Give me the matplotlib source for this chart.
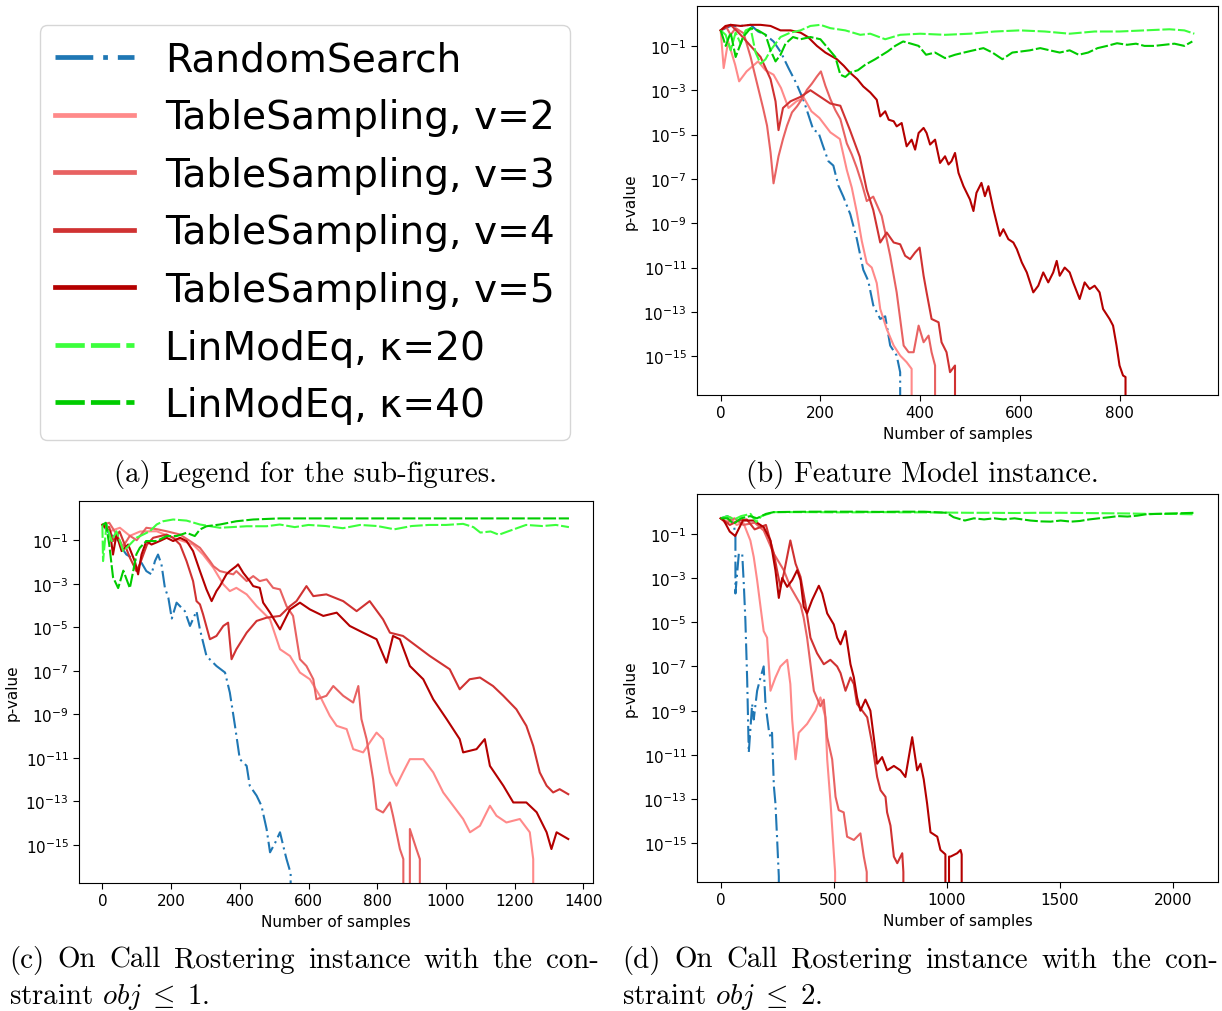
import numpy as np
import matplotlib
matplotlib.use("Agg")
import matplotlib.pyplot as plt
from matplotlib.lines import Line2D
from matplotlib.ticker import FixedLocator, NullLocator
from matplotlib.transforms import IdentityTransform

NINF = -np.inf   # p-value of exactly 0 (drawn down to the bottom of the log axis)

# ---------------- series metadata ----------------
LABELS = ["RandomSearch", "TableSampling, v=2", "TableSampling, v=3",
          "TableSampling, v=4", "TableSampling, v=5",
          "LinModEq, κ=20", "LinModEq, κ=40"]
COLORS = ["#1f77b4", "#ff8a8a", "#e86262", "#d03232", "#b40000",
          "#3cff3c", "#00cc00"]
DASH_RS = (0, (8, 2.1, 1, 2.1))
DASH_LM = (0, (6.2, 1.3))
STYLES = [DASH_RS, "-", "-", "-", "-", DASH_LM, DASH_LM]

# ---------------- (b) Feature Model instance (x: samples, log10 p-value) ----------------
B_RS_X = [0, 20, 40, 60, 75, 90, 106, 121, 136, 152, 167, 186, 196, 205, 216, 226, 236, 246, 260, 273, 286, 296, 306, 320, 330, 340, 353, 360, 363]
B_RS_LP = [-0.3, -0.1, -0.1, -0.05, -0.35, -0.5, -0.8, -1.3, -2.0, -2.7, -3.5, -4.8, -4.9, -5.5, -6.2, -6.4, -7.3, -7.8, -8.6, -9.7, -11.1, -11.6, -12.7, -13.32, -13.2, -14.52, -14.97, -15.72, NINF]

B_TS2_X = [0, 6, 15, 29, 37, 52, 75, 90, 106, 121, 136, 152, 167, 182, 198, 220, 239, 253, 263, 273, 283, 293, 303, 313, 320, 333, 347, 360, 373, 383, 385]
B_TS2_LP = [-0.3, -2.0, -0.8, -1.85, -2.6, -2.15, -1.7, -2.1, -2.3, -2.9, -3.8, -3.5, -3.35, -3.95, -4.25, -4.9, -5.2, -6.6, -7.4, -8.5, -9.8, -10.8, -11.0, -11.7, -12.87, -13.77, -14.52, -14.97, -15.27, -15.57, NINF]

B_TS3_X = [0, 10, 20, 30, 46, 60, 73, 85, 93, 100, 106, 111, 116, 125, 133, 143, 153, 163, 173, 183, 193, 201, 210, 220, 230, 240, 253, 263, 273, 283, 293, 306, 323, 340, 353, 360, 367, 377, 387, 397, 407, 417, 423, 430, 436]
B_TS3_LP = [-0.3, -0.1, -0.5, -0.2, -0.43, -1.5, -2.7, -3.8, -4.6, -5.8, -7.2, -6.6, -5.98, -5.2, -4.6, -4.0, -3.73, -3.4, -2.98, -2.7, -2.38, -2.15, -2.8, -3.4, -3.9, -4.3, -5.4, -5.9, -6.5, -7.2, -8.0, -7.8, -8.67, -10.47, -12.12, -13.32, -14.52, -14.82, -14.82, -13.62, -14.37, -14.07, -14.82, -15.42, NINF]

B_TS4_X = [0, 20, 40, 60, 80, 100, 110, 116, 125, 140, 160, 180, 200, 220, 240, 259, 279, 293, 306, 320, 333, 347, 360, 370, 380, 390, 399, 407, 413, 423, 437, 443, 453, 460, 470, 472]
B_TS4_LP = [-0.3, -0.05, -0.5, -1.0, -1.5, -2.5, -3.5, -4.8, -3.8, -3.5, -3.3, -3.0, -3.3, -3.6, -3.7, -4.78, -6.0, -7.5, -8.4, -9.87, -9.42, -9.87, -9.95, -10.47, -10.62, -10.32, -10.1, -11.37, -12.12, -13.32, -13.47, -14.37, -14.82, -15.72, -15.42, NINF]

B_TS5_X = [0, 10, 20, 40, 60, 80, 100, 120, 140, 160, 175, 193, 210, 233, 247, 259, 274, 286, 300, 313, 320, 330, 337, 347, 353, 363, 373, 383, 390, 397, 407, 413, 420, 430, 440, 450, 457, 463, 470, 477, 487, 500, 507, 513, 523, 530, 537, 547, 560, 567, 577, 587, 594, 604, 614, 627, 637, 647, 657, 667, 674, 680, 690, 700, 707, 720, 730, 740, 750, 760, 767, 780, 787, 794, 800, 807, 812, 814]
B_TS5_LP = [-0.3, -0.1, -0.05, -0.1, -0.05, -0.05, -0.1, -0.3, -0.3, -0.4, -0.6, -1.0, -1.3, -1.6, -1.9, -2.2, -2.5, -2.83, -3.1, -3.43, -4.18, -3.95, -4.33, -4.40, -4.63, -4.48, -5.53, -5.23, -5.68, -4.93, -4.70, -4.93, -5.45, -5.23, -6.28, -5.98, -6.35, -6.20, -5.83, -6.73, -7.33, -7.93, -8.45, -7.63, -7.18, -7.78, -7.33, -8.37, -9.57, -9.27, -9.72, -9.87, -10.17, -10.77, -11.22, -12.12, -11.82, -11.22, -11.67, -11.22, -10.70, -11.37, -11.0, -11.22, -11.67, -12.42, -11.67, -11.97, -11.82, -12.12, -12.87, -13.32, -13.62, -14.52, -15.42, -15.87, -15.94, NINF]

B_LM20_X = [0, 10, 20, 30, 40, 50, 60, 70, 80, 90, 100, 110, 120, 140, 160, 180, 200, 220, 250, 280, 300, 330, 360, 400, 450, 500, 550, 600, 650, 700, 750, 800, 850, 900, 930, 950]
B_LM20_LP = [-0.3, -0.5, -1.2, -0.4, -0.9, -0.3, -0.2, -1.3, -1.8, -1.6, -1.2, -0.9, -0.6, -0.4, -0.3, -0.1, -0.05, -0.2, -0.3, -0.5, -0.45, -0.7, -0.5, -0.45, -0.5, -0.45, -0.35, -0.3, -0.35, -0.45, -0.35, -0.35, -0.3, -0.25, -0.3, -0.45]

B_LM40_X = [0, 10, 20, 30, 45, 60, 75, 90, 100, 110, 120, 130, 145, 160, 180, 200, 215, 230, 240, 250, 260, 275, 290, 310, 335, 350, 366, 382, 397, 412, 430, 450, 470, 488, 507, 527, 545, 565, 585, 603, 620, 641, 660, 680, 700, 718, 737, 756, 775, 795, 815, 833, 850, 870, 890, 910, 930, 946]
B_LM40_LP = [-0.3, -1.0, -0.4, -1.5, -0.6, -0.2, -0.3, -0.5, -1.2, -1.7, -1.4, -0.9, -0.6, -0.7, -0.6, -0.7, -1.1, -1.5, -2.3, -2.4, -2.2, -2.1, -1.85, -1.6, -1.25, -1.0, -0.8, -0.9, -1.0, -1.4, -1.3, -1.55, -1.4, -1.3, -1.2, -1.1, -1.3, -1.6, -1.3, -1.25, -1.2, -1.1, -1.2, -1.3, -1.2, -1.4, -1.3, -1.1, -1.0, -0.88, -0.95, -0.9, -1.0, -1.0, -0.95, -0.9, -1.0, -0.8]

# ---------------- (c) On Call Rostering, obj <= 1 ----------------
C_RS_X = [0, 7, 22, 41, 56, 70, 85, 99, 114, 128, 143, 153, 162, 172, 182, 192, 202, 216, 240, 255, 274, 284, 303, 332, 357, 371, 386, 400, 420, 429, 449, 463, 478, 488, 503, 517, 531, 536, 548, 551]
C_RS_LP = [-0.3, -0.43, -0.74, -0.89, -1.35, -1.66, -1.8, -1.96, -2.04, -2.42, -2.57, -1.96, -1.66, -2.11, -3.19, -3.64, -4.6, -3.87, -4.26, -4.94, -4.26, -5.1, -6.32, -6.78, -7.08, -8.0, -9.53, -11.06, -11.37, -12.28, -12.74, -13.2, -14.27, -15.34, -14.9, -14.42, -15.34, -15.65, -16.3, NINF]

C_TS2_X = [0, 20, 51, 80, 110, 158, 206, 264, 293, 323, 352, 371, 390, 420, 449, 488, 517, 546, 575, 604, 633, 662, 682, 711, 730, 759, 778, 798, 817, 837, 856, 875, 895, 934, 963, 992, 1021, 1050, 1070, 1099, 1128, 1147, 1176, 1215, 1244, 1254, 1260]
C_TS2_LP = [-0.3, -0.6, -0.43, -0.8, -0.6, -0.59, -0.89, -1.2, -1.66, -2.27, -3.03, -3.34, -3.19, -3.49, -4.03, -4.64, -6.01, -6.32, -7.08, -7.39, -8.15, -9.07, -9.53, -9.68, -10.6, -10.75, -10.3, -9.84, -10.14, -11.67, -12.28, -11.67, -11.06, -11.06, -11.67, -12.59, -13.2, -13.81, -14.42, -14.12, -13.2, -13.66, -13.97, -13.81, -14.42, -15.65, NINF]

C_TS3_X = [0, 20, 40, 60, 80, 100, 128, 160, 187, 226, 255, 284, 313, 323, 342, 381, 390, 420, 439, 458, 478, 497, 517, 536, 555, 575, 594, 614, 623, 652, 672, 701, 730, 745, 754, 769, 788, 798, 817, 837, 846, 866, 876, 878, 895, 914, 924, 926]
C_TS3_LP = [-0.3, -0.2, -0.7, -1.3, -0.8, -1.0, -0.43, -0.5, -0.59, -0.74, -1.04, -1.35, -1.96, -2.19, -2.42, -2.57, -2.42, -2.88, -2.65, -2.88, -2.80, -3.19, -3.26, -4.03, -4.48, -6.47, -6.78, -7.39, -8.31, -8.15, -7.70, -8.15, -8.46, -7.70, -9.22, -10.14, -11.98, -13.35, -13.51, -13.05, -13.66, -15.19, -15.65, NINF, -14.27, -15.19, -15.65, NINF]

C_TS4_X = [0, 20, 31, 50, 80, 99, 109, 130, 148, 187, 206, 226, 245, 264, 274, 284, 293, 313, 332, 352, 366, 376, 390, 420, 449, 478, 517, 546, 565, 594, 614, 652, 701, 740, 778, 817, 837, 875, 914, 953, 1011, 1040, 1069, 1099, 1137, 1167, 1205, 1234, 1254, 1273, 1293, 1312, 1331, 1356]
C_TS4_LP = [-0.3, -0.4, -1.04, -0.6, -1.8, -2.42, -2.1, -1.2, -0.89, -0.74, -0.89, -1.2, -1.96, -2.88, -3.8, -3.95, -4.4, -5.55, -5.40, -4.94, -4.79, -6.47, -6.01, -5.25, -4.71, -4.56, -4.48, -4.03, -3.80, -3.11, -3.57, -3.49, -3.80, -4.26, -3.80, -4.64, -5.25, -5.40, -5.86, -6.32, -6.93, -7.85, -7.39, -7.31, -7.70, -8.15, -8.77, -9.53, -10.45, -11.67, -12.28, -12.59, -12.44, -12.67]

C_TS5_X = [0, 22, 31, 41, 56, 75, 95, 104, 114, 128, 143, 167, 187, 206, 226, 245, 264, 284, 303, 318, 332, 342, 361, 371, 390, 395, 410, 429, 439, 458, 468, 488, 517, 546, 575, 604, 643, 682, 720, 759, 798, 827, 846, 866, 895, 934, 963, 1002, 1040, 1050, 1089, 1113, 1128, 1167, 1196, 1234, 1264, 1293, 1307, 1322, 1356]
C_TS5_LP = [-0.3, -0.59, -1.66, -0.74, -1.5, -1.2, -2.0, -2.57, -1.66, -1.04, -1.2, -1.04, -0.89, -1.04, -0.89, -1.04, -1.5, -2.42, -3.26, -3.8, -3.34, -3.11, -2.57, -2.42, -2.19, -2.11, -2.50, -2.88, -3.11, -3.19, -3.87, -4.33, -5.1, -4.18, -3.87, -4.18, -4.48, -4.33, -4.94, -5.25, -5.55, -6.63, -5.40, -5.55, -6.78, -7.39, -8.31, -9.22, -10.14, -10.75, -10.6, -10.14, -11.37, -12.28, -13.05, -13.05, -13.5, -14.42, -15.19, -14.42, -14.73]

C_LM20_X = [0, 2, 12, 27, 41, 61, 80, 99, 119, 138, 158, 177, 206, 245, 284, 342, 420, 478, 516, 560, 600, 650, 700, 750, 800, 850, 900, 950, 1000, 1050, 1080, 1100, 1130, 1154, 1180, 1233, 1280, 1320, 1358]
C_LM20_LP = [-0.3, -1.96, -0.28, -1.04, -0.59, -1.5, -1.2, -0.89, -0.74, -0.59, -0.28, -0.13, -0.05, -0.1, -0.28, -0.43, -0.36, -0.36, -0.28, -0.4, -0.3, -0.35, -0.45, -0.3, -0.35, -0.5, -0.35, -0.3, -0.3, -0.25, -0.4, -0.65, -0.6, -0.75, -0.6, -0.3, -0.35, -0.3, -0.4]

C_LM40_X = [0, 10, 20, 31, 46, 61, 80, 90, 99, 109, 128, 158, 187, 216, 245, 269, 284, 303, 342, 390, 439, 516, 700, 900, 1100, 1358]
C_LM40_LP = [-0.3, -0.2, -1.2, -2.7, -3.2, -2.4, -3.2, -2.4, -1.65, -1.35, -1.04, -1.04, -0.81, -0.81, -0.66, -0.81, -0.51, -0.36, -0.28, -0.13, -0.05, 0.0, 0.0, 0.0, 0.0, 0.0]

# ---------------- (d) On Call Rostering, obj <= 2 ----------------
D_RS_X = [0, 30, 58, 65, 65, 80, 95, 102, 109, 117, 124, 139, 146, 161, 176, 190, 198, 213, 220, 227, 235, 242, 249, 257, 258]
D_RS_LP = [-0.3, -0.2, -0.55, -1.15, -3.7, -1.9, -1.9, -3.26, -4.9, -7.6, -10.9, -8.7, -9.4, -8.1, -7.5, -7.0, -8.7, -9.9, -10.2, -10.0, -12.4, -13.2, -14.7, -16.5, NINF]

D_TS2_X = [0, 20, 43, 70, 100, 131, 146, 161, 176, 190, 205, 220, 242, 264, 294, 308, 316, 331, 345, 382, 419, 441, 463, 471, 486, 500, 506, 508]
D_TS2_LP = [-0.3, -0.5, -0.25, -0.6, -0.5, -1.3, -2.05, -3.1, -4.3, -5.4, -5.7, -8.1, -7.5, -7.0, -6.7, -7.8, -9.4, -11.2, -10.0, -9.6, -9.0, -8.4, -9.3, -11.2, -13.2, -15.4, -16.3, NINF]

D_TS3_X = [0, 30, 60, 100, 150, 190, 235, 279, 308, 353, 367, 382, 397, 412, 441, 456, 471, 493, 508, 522, 544, 559, 589, 618, 633, 646, 648]
D_TS3_LP = [-0.3, -0.5, -0.3, -0.6, -0.5, -0.85, -1.9, -2.65, -3.4, -4.2, -4.8, -5.7, -6.9, -8.1, -8.8, -8.5, -10.2, -11.2, -12.9, -13.5, -13.6, -14.7, -14.85, -14.55, -15.6, -16.3, NINF]

D_TS4_X = [0, 40, 80, 115, 150, 200, 235, 249, 264, 279, 308, 331, 353, 375, 397, 426, 456, 485, 515, 530, 552, 574, 589, 603, 626, 648, 670, 692, 707, 729, 736, 751, 766, 781, 803, 808, 810]
D_TS4_LP = [-0.3, -0.6, -0.4, -0.35, -0.8, -0.6, -1.9, -2.65, -3.4, -2.8, -1.3, -2.35, -2.95, -4.2, -5.7, -6.4, -6.9, -6.7, -7.0, -7.3, -8.1, -7.5, -7.8, -8.7, -9.0, -9.3, -10.5, -12.0, -12.6, -12.9, -13.6, -14.2, -15.6, -15.9, -15.45, -16.3, NINF]

D_TS5_X = [0, 14, 40, 64, 98, 146, 190, 220, 242, 257, 272, 294, 316, 338, 353, 367, 382, 404, 434, 449, 471, 500, 515, 530, 552, 574, 589, 603, 618, 640, 662, 677, 692, 714, 736, 766, 795, 817, 847, 869, 884, 898, 913, 928, 958, 972, 994, 1000, 1010, 1017, 1046, 1061, 1066, 1068]
D_TS5_LP = [-0.3, -0.4, -0.9, -1.1, -0.4, -0.4, -0.7, -1.3, -2.65, -3.9, -3.0, -3.4, -3.1, -2.65, -3.1, -4.3, -4.6, -4.0, -3.35, -3.7, -4.6, -5.1, -5.7, -6.0, -5.4, -6.9, -7.5, -8.4, -9.0, -8.5, -9.0, -10.2, -11.4, -11.1, -11.7, -11.5, -11.7, -12.0, -10.2, -11.7, -11.4, -12.1, -13.2, -14.5, -14.7, -15.3, -15.5, NINF, -15.6, -15.6, -15.45, -15.3, -15.5, NINF]

D_LM20_X = [0, 30, 60, 90, 132, 157, 180, 234, 300, 400, 500, 600, 700, 800, 900, 1000, 1100, 1200, 1300, 1400, 1500, 1600, 1700, 1800, 1900, 2000, 2097]
D_LM20_LP = [-0.3, -0.2, -0.35, -0.2, -0.1, -0.47, -0.2, -0.02, -0.02, -0.02, -0.03, -0.03, -0.02, -0.03, -0.03, -0.04, -0.05, -0.05, -0.06, -0.05, -0.05, -0.06, -0.07, -0.08, -0.1, -0.1, -0.12]

D_LM40_X = [0, 30, 56, 90, 130, 160, 200, 234, 300, 400, 500, 600, 700, 800, 900, 1000, 1030, 1080, 1120, 1165, 1210, 1250, 1300, 1370, 1419, 1460, 1504, 1550, 1589, 1630, 1673, 1720, 1758, 1800, 1843, 1880, 1927, 2000, 2097]
D_LM40_LP = [-0.3, -0.3, -0.55, -0.3, -0.2, -0.3, -0.1, -0.02, -0.01, 0.0, 0.0, 0.0, -0.01, 0.0, 0.0, -0.05, -0.25, -0.4, -0.3, -0.35, -0.3, -0.35, -0.3, -0.4, -0.44, -0.45, -0.4, -0.45, -0.42, -0.35, -0.3, -0.25, -0.2, -0.22, -0.18, -0.12, -0.1, -0.08, -0.05]

PANEL_B = [(B_RS_X, B_RS_LP), (B_TS2_X, B_TS2_LP), (B_TS3_X, B_TS3_LP), (B_TS4_X, B_TS4_LP),
           (B_TS5_X, B_TS5_LP), (B_LM20_X, B_LM20_LP), (B_LM40_X, B_LM40_LP)]
PANEL_C = [(C_RS_X, C_RS_LP), (C_TS2_X, C_TS2_LP), (C_TS3_X, C_TS3_LP), (C_TS4_X, C_TS4_LP),
           (C_TS5_X, C_TS5_LP), (C_LM20_X, C_LM20_LP), (C_LM40_X, C_LM40_LP)]
PANEL_D = [(D_RS_X, D_RS_LP), (D_TS2_X, D_TS2_LP), (D_TS3_X, D_TS3_LP), (D_TS4_X, D_TS4_LP),
           (D_TS5_X, D_TS5_LP), (D_LM20_X, D_LM20_LP), (D_LM40_X, D_LM40_LP)]

Y_TICK_EXP = [-15, -13, -11, -9, -7, -5, -3, -1]

# ---------------- figure ----------------
W, H = 1222, 1012
fig = plt.figure(figsize=(W / 100, H / 100), dpi=100)


def add_ax(l, t, r, b):
    return fig.add_axes([l / W, 1 - b / H, (r - l) / W, (b - t) / H])


def draw_panel(ax, series, xlim, xticks):
    for (x, lp), c, ls in zip(series, COLORS, STYLES):
        y = np.power(10.0, np.asarray(lp, dtype=float))
        ax.plot(x, y, color=c, lw=1.5, linestyle=ls)
    ax.set_yscale("log")
    ax.set_ylim(10 ** -16.75, 10 ** 0.8)
    ax.set_xlim(*xlim)
    ax.yaxis.set_major_locator(FixedLocator([10.0 ** e for e in Y_TICK_EXP]))
    ax.yaxis.set_minor_locator(NullLocator())
    ax.set_xticks(xticks)
    ax.tick_params(labelsize=11, length=4)
    ax.set_xlabel("Number of samples", fontsize=11)
    ax.set_ylabel("p-value", fontsize=11)


ax_b = add_ax(697, 7, 1218, 396)
draw_panel(ax_b, PANEL_B, (-47.5, 997.5), [0, 200, 400, 600, 800])
ax_c = add_ax(79, 502, 593, 884)
draw_panel(ax_c, PANEL_C, (-68, 1428), [0, 200, 400, 600, 800, 1000, 1200, 1400])
ax_d = add_ax(697, 495, 1218, 883)
draw_panel(ax_d, PANEL_D, (-105, 2200), [0, 500, 1000, 1500, 2000])

# ---------------- legend panel (a) ----------------
handles = [Line2D([], [], color=c, lw=3.4, linestyle=ls) for c, ls in zip(COLORS, STYLES)]
fig.legend(handles, LABELS, loc="upper left", bbox_to_anchor=(39.5 / W, 1 - 26 / H),
           borderaxespad=0, fontsize=28.2)

# ---------------- captions ----------------
CAP = dict(family="cmr10", math_fontfamily="cm", fontsize=20.8,
           transform=IdentityTransform(), va="baseline")

fig.text(305, H - 482, "(a) Legend for the sub-figures.", ha="center", **CAP)
fig.text(922, H - 482, "(b) Feature Model instance.", ha="center", **CAP)

renderer = fig.canvas.get_renderer()


def justified(words, x0, x1, yb):
    ts = [fig.text(0, 0, w, ha="left", **CAP) for w in words]
    ws = [t.get_window_extent(renderer).width for t in ts]
    gap = (x1 - x0 - sum(ws)) / (len(ws) - 1)
    x = x0
    for t, w in zip(ts, ws):
        t.set_position((x, H - yb))
        x += w + gap


LINE1_C = ["(c)", "On", "Call", "Rostering", "instance", "with", "the", "con-"]
LINE1_D = ["(d)", "On", "Call", "Rostering", "instance", "with", "the", "con-"]
justified(LINE1_C, 9, 599, 968)
justified(LINE1_D, 622, 1218, 968)
fig.text(9, H - 1004, r"straint $obj\;\leq\;1$.", ha="left", **CAP)
fig.text(622, H - 1004, r"straint $obj\;\leq\;2$.", ha="left", **CAP)

fig.savefig("out.png", dpi=100)
